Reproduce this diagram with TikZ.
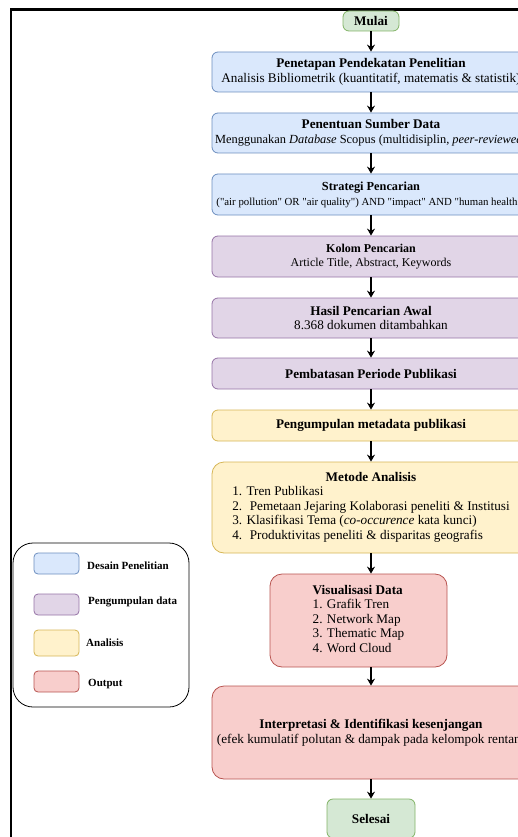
\documentclass[tikz,border=0pt]{standalone}
\usepackage{fontspec}
\setmainfont{Liberation Serif}
\usetikzlibrary{arrows.meta}

\definecolor{biruisi}{HTML}{DAE8FC}
\definecolor{birugaris}{HTML}{6C8EBF}
\definecolor{unguisi}{HTML}{E1D5E7}
\definecolor{ungugaris}{HTML}{9673A6}
\definecolor{kuningisi}{HTML}{FFF2CC}
\definecolor{kuninggaris}{HTML}{D6B656}
\definecolor{merahisi}{HTML}{F8CECC}
\definecolor{merahgaris}{HTML}{B85450}
\definecolor{hijauisi}{HTML}{D5E8D4}
\definecolor{hijaugaris}{HTML}{82B366}

\newcommand{\kutip}[1]{\textquotedbl#1\textquotedbl}

\tikzset{
	kotak/.style={draw, rounded corners=6pt, line width=0.8pt, align=center, inner sep=0pt,
		font=\fontsize{13.2}{14.5}\selectfont},
	desain/.style={kotak, fill=biruisi, draw=birugaris},
	kumpul/.style={kotak, fill=unguisi, draw=ungugaris},
	analisis/.style={kotak, fill=kuningisi, draw=kuninggaris},
	keluaran/.style={kotak, fill=merahisi, draw=merahgaris},
	terminal/.style={kotak, fill=hijauisi, draw=hijaugaris},
	lebar/.style={minimum width=318pt},
	panah/.style={-{Stealth[length=7pt,width=8pt]}, line width=1.1pt},
	legenda/.style={right, font=\fontsize{11}{12}\selectfont\bfseries, inner sep=0pt},
}

\begin{document}
\begin{tikzpicture}[x=1pt, y=-1pt]
		\useasboundingbox (0,0) rectangle (518,837);
		\clip (0,0) rectangle (518,837);
		\draw[line width=2.5pt] (11,837) -- (11,9.5) -- (518,9.5);
		% alur utama
		\node[terminal, minimum width=56pt, minimum height=20pt] (mulai) at (371,21) {\textbf{Mulai}};
		\node[desain, lebar, minimum height=40pt] (penetapan) at (371,72)
		{\textbf{Penetapan Pendekatan Penelitian}\\Analisis Bibliometrik (kuantitatif, matematis \& statistik)};
		\node[desain, lebar, minimum height=40pt] (sumber) at (371,133)
		{\textbf{Penentuan Sumber Data}\\{\fontsize{12.4}{14.5}\selectfont Menggunakan \textit{Database} Scopus (multidisiplin, \textit{peer-reviewed})}};
		\node[desain, lebar, minimum height=41pt, font=\fontsize{12.3}{15}\selectfont] (strategi) at (371,194.5)
		{\textbf{Strategi Pencarian}\\{\fontsize{10.8}{15}\selectfont (\kutip{air pollution} OR \kutip{air quality}) AND \kutip{impact} AND \kutip{human health})}};
		\node[kumpul, lebar, minimum height=41pt, font=\fontsize{12}{14}\selectfont] (kolom) at (371,256.5)
		{\textbf{Kolom Pencarian}\\Article Title, Abstract, Keywords};
		\node[kumpul, lebar, minimum height=40pt] (hasil) at (371,318)
		{\textbf{Hasil Pencarian Awal}\\8.368 dokumen ditambahkan};
		\node[kumpul, lebar, minimum height=31pt] (periode) at (371,373.5)
		{\textbf{Pembatasan Periode Publikasi}};
		\node[analisis, lebar, minimum height=31pt] (metadata) at (371,425.5)
		{\textbf{Pengumpulan metadata publikasi}};
		\node[analisis, lebar, minimum height=91pt, rounded corners=12pt] (metode) at (371,507.5)
		{\begin{tabular}{@{}l@{}}
			\multicolumn{1}{c}{\textbf{Metode Analisis}}\\
			1. Tren Publikasi\\
			2. \ Pemetaan Jejaring Kolaborasi peneliti \& Institusi\\
			3. Klasifikasi Tema (\textit{co-occurence} kata kunci)\\
			4. \ Produktivitas peneliti \& disparitas geografis
		\end{tabular}};
		\node[keluaran, minimum width=177pt, minimum height=93pt, rounded corners=12pt] (visual) at (358.5,620.5)
		{\begin{tabular}{@{}l@{}}
			\textbf{Visualisasi Data}\\
			1. Grafik Tren\\
			2. Network Map\\
			3. Thematic Map\\
			4. Word Cloud
		\end{tabular}};
		\node[keluaran, lebar, minimum height=93pt, rounded corners=12pt] (interpretasi) at (371,732.5)
		{\textbf{Interpretasi \& Identifikasi kesenjangan}\\(efek kumulatif polutan \& dampak pada kelompok rentan)};
		\node[terminal, minimum width=88pt, minimum height=39pt] (selesai) at (371,818.5) {\textbf{Selesai}};
		% panah
		\draw[panah] (mulai) -- (penetapan);
		\draw[panah] (penetapan) -- (sumber);
		\draw[panah] (sumber) -- (strategi);
		\draw[panah] (strategi) -- (kolom);
		\draw[panah] (kolom) -- (hasil);
		\draw[panah] (hasil) -- (periode);
		\draw[panah] (periode) -- (metadata);
		\draw[panah] (metadata) -- (metode);
		\draw[panah] (metode.south) -- (metode.south |- visual.north);
		\draw[panah] (visual.south -| interpretasi.north) -- (interpretasi.north);
		\draw[panah] (interpretasi) -- (selesai);
		% keterangan
		\node[draw, line width=0.8pt, rounded corners=20pt, minimum width=176pt, minimum height=164pt] (keterangan) at (101,625) {};
		\node[desain, minimum width=45pt, minimum height=21pt, rounded corners=4pt] (kdesain) at (56.5,563.5) {};
		\node[kumpul, minimum width=45pt, minimum height=21pt, rounded corners=4pt] (kkumpul) at (56.5,604.5) {};
		\node[analisis, minimum width=45pt, minimum height=26pt, rounded corners=4pt] (kanalisis) at (56.5,643) {};
		\node[keluaran, minimum width=45pt, minimum height=21pt, rounded corners=4pt] (kkeluaran) at (56.5,681.5) {};
		\node[legenda] at (87,566) {Desain Penelitian};
		\node[legenda] at (88,602) {Pengumpulan data};
		\node[legenda] at (86,643) {Analisis};
		\node[legenda] at (88,684) {Output};
\end{tikzpicture}
\end{document}
